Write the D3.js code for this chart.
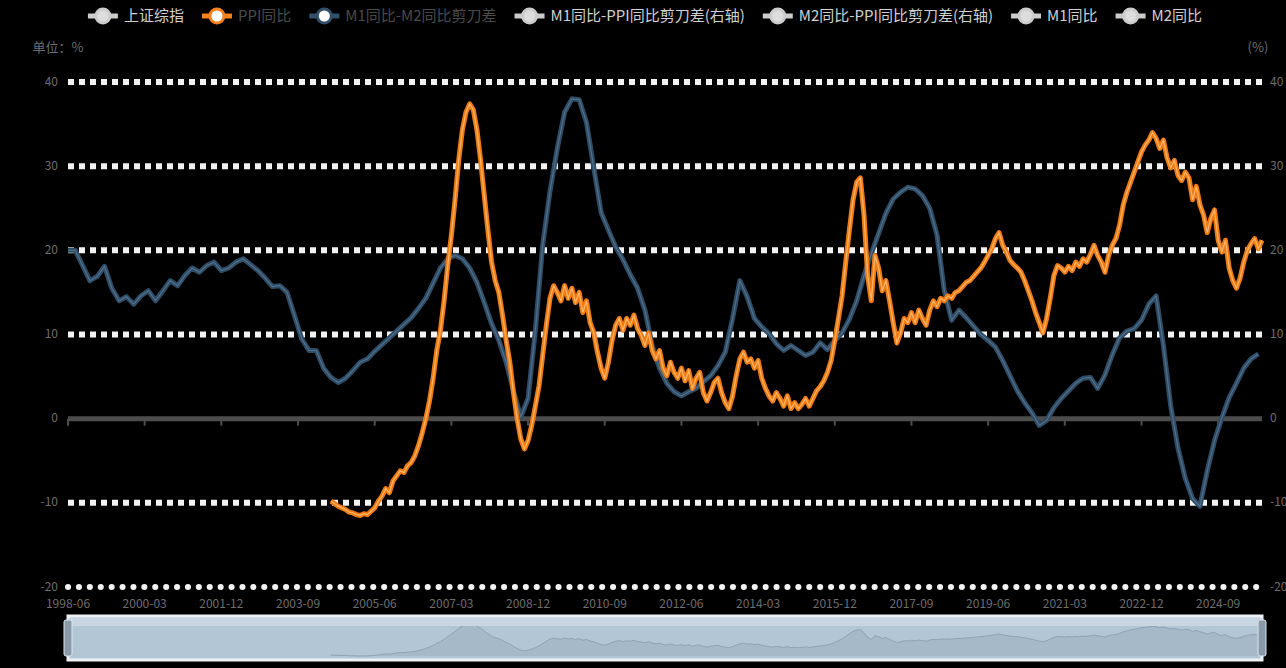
<!DOCTYPE html>
<html><head><meta charset="utf-8">
<script src="https://cdn.jsdelivr.net/npm/d3@7"></script>
<style>html,body{margin:0;padding:0;background:#000;overflow:hidden}svg{display:block;font-family:"Noto Sans CJK SC","Noto Sans",sans-serif}</style>
</head><body><svg id="c" width="1286" height="668"></svg>
<script>
// ---- data ----
const startMonth = "1998-06";
const endMonth = "2025-09";
const legendNames = ["上证综指", "PPI同比", "M1同比-M2同比剪刀差", "M1同比-PPI同比剪刀差(右轴)", "M2同比-PPI同比剪刀差(右轴)", "M1同比", "M2同比"];
const legendColors = ["#ccc", "#f5821f", "#33506b", "#ccc", "#ccc", "#ccc", "#ccc"];
const legendActive = [false, true, true, false, false, false, false];
const yTickValues = [40, 30, 20, 10, 0, -10, -20];
const xLabelEveryMonths = 21;
const leftAxisName = "单位：%";
const rightAxisName = "(%)";
// blue series: one value every 2 months from startMonth
const blueStepMonths = 2;
const blueValues = [
20.0,20.0,18.2,16.4,16.9,18.1,15.5,14.0,14.5,13.6,
14.6,15.2,14.0,15.2,16.4,15.8,17.0,17.9,17.4,18.2,
18.6,17.6,17.9,18.6,19.0,18.3,17.6,16.7,15.7,15.8,
15.0,12.3,9.5,8.1,8.1,6.0,4.9,4.3,4.8,5.7,
6.7,7.1,8.0,8.8,9.6,10.4,11.2,12.0,13.1,14.3,
16.1,17.9,19.0,19.4,19.0,17.9,16.2,13.8,11.3,9.3,
6.7,3.3,0.2,2.4,10.5,20.6,27.0,32.1,36.4,38.0,
37.9,35.2,29.8,24.5,22.4,20.4,18.9,17.1,15.5,12.9,
8.7,6.0,4.2,3.2,2.7,3.2,3.6,4.4,5.1,6.3,
7.9,11.9,16.4,14.5,11.9,10.9,10.1,8.9,8.1,8.7,
8.1,7.5,7.9,9.0,8.2,9.3,10.2,11.8,14.0,17.0,
19.6,22.0,24.4,26.1,26.9,27.5,27.3,26.5,25.0,21.8,
15.2,11.7,12.9,12.0,11.0,10.0,9.3,8.5,6.9,5.1,
3.3,1.9,0.7,-0.8,-0.2,1.3,2.4,3.3,4.2,4.8,
4.9,3.6,5.2,7.6,9.6,10.4,10.7,11.7,13.6,14.6,
8.7,1.5,-3.5,-7.1,-9.5,-10.4,-6.2,-2.6,0.1,2.5,
4.2,6.0,7.1,7.7];
// orange series: monthly from orangeStart
const orangeStart = "2004-06";
const orangeValues = [
-9.8,-10.1,-10.4,-10.6,-10.8,-11.1,-11.2,-11.4,-11.5,-11.3,
-11.4,-11.0,-10.6,-9.8,-9.2,-8.3,-8.8,-7.4,-6.8,-6.2,
-6.4,-5.6,-5.2,-4.4,-3.2,-1.7,0,2.1,4.8,8.1,
10.5,14.0,18.2,21.8,26.0,30.7,34.3,36.4,37.4,36.7,
34.3,30.7,26.5,22.4,18.6,16.4,15.0,12.3,9.3,6.7,
3.1,0,-2.4,-3.6,-2.6,-0.8,1.5,3.9,7.5,11.1,
14.3,15.8,15.0,14.0,15.8,14.3,15.5,13.8,15.0,12.6,
14.0,11.4,10.2,7.9,6.0,4.8,6.7,9.3,11.1,11.9,
10.5,11.9,11.1,12.3,10.7,9.9,8.7,10.2,8.1,7.1,
8.1,6.0,5.1,6.7,5.5,4.8,6.0,4.5,5.7,3.6,
4.8,5.5,3.1,2.1,3.1,4.3,4.8,3.1,1.9,1.2,
2.7,5.1,7.1,7.9,6.7,7.1,6.0,6.9,4.8,3.6,
2.7,2.1,3.1,2.4,1.5,2.7,1.2,1.9,1.2,1.7,
2.4,1.5,2.4,3.3,3.8,4.5,5.5,6.9,9.3,11.9,
14.6,18.6,22.4,26.0,28.1,28.6,24.2,17.0,14.0,19.4,
17.9,15.2,16.4,14.0,11.4,9.0,10.2,11.9,11.4,12.6,
11.4,12.9,11.9,11.1,12.9,14.0,13.3,14.3,14.0,14.6,
14.3,15.0,15.2,15.7,16.2,16.4,16.9,17.4,17.9,18.6,
19.4,20.2,21.4,22.1,20.6,19.8,18.8,18.3,17.9,17.4,
16.4,15.2,14.0,12.6,11.4,10.2,11.9,14.3,17.0,18.2,
17.9,17.4,18.1,17.6,18.6,18.1,19.0,18.6,19.5,20.6,
19.4,18.6,17.4,19.4,20.6,21.4,23.0,25.4,26.9,28.1,
29.3,30.5,31.7,32.5,33.1,34.0,33.3,32.1,33.1,31.0,
29.8,30.7,28.9,28.3,29.3,28.6,26.0,27.6,25.4,24.2,
22.1,23.8,24.8,21.2,19.8,21.2,17.9,16.4,15.5,16.7,
18.6,20.0,20.8,21.4,20.2,21.2];

// ---- layout ----
const W = 1286, H = 668;
const M = {left: 68, right: 1262, top: 82, bottom: 587};
const svg = d3.select("#c");
svg.append("rect").attr("width", W).attr("height", H).attr("fill", "#000");

const parse = d3.timeParse("%Y-%m");
const fmt = d3.timeFormat("%Y-%m");
const months = d3.timeMonth.range(parse(startMonth), d3.timeMonth.offset(parse(endMonth), 1)).map(fmt);
const x = d3.scalePoint().domain(months).range([M.left, M.right]);
const y = d3.scaleLinear().domain([-20, 40]).range([M.bottom, M.top]);

// grid lines
const grid = svg.append("g");
yTickValues.forEach(v => {
  if (v === 0) return;
  const isBottom = v === -20;
  grid.append("line")
    .attr("x1", M.left).attr("x2", M.right)
    .attr("y1", y(v)).attr("y2", y(v))
    .attr("stroke", "#f2f2f2")
    .attr("stroke-width", 6)
    .attr("stroke-dasharray", isBottom ? "0.1 10.8" : "6 5")
    .attr("stroke-linecap", isBottom ? "round" : "butt");
});

// zero axis line with ticks
const tickMonths = months.filter((m, i) => i % xLabelEveryMonths === 0);
svg.append("line").attr("x1", M.left).attr("x2", M.right)
  .attr("y1", y(0)).attr("y2", y(0)).attr("stroke", "#4d4d4d").attr("stroke-width", 5);
svg.append("g").selectAll("line").data(tickMonths).join("line")
  .attr("x1", d => x(d)).attr("x2", d => x(d))
  .attr("y1", y(0)).attr("y2", y(0) + 7)
  .attr("stroke", "#4d4d4d").attr("stroke-width", 2);

// y labels
svg.append("g").selectAll("text").data(yTickValues).join("text")
  .attr("x", M.left - 10).attr("y", d => y(d)).attr("dy", "0.3em")
  .attr("text-anchor", "end").attr("fill", "#6e6e6e").attr("font-size", 12).text(d => d);
svg.append("g").selectAll("text").data(yTickValues).join("text")
  .attr("x", M.right + 8).attr("y", d => y(d)).attr("dy", "0.3em")
  .attr("text-anchor", "start").attr("fill", "#6e6e6e").attr("font-size", 12).text(d => d);
svg.append("text").attr("x", M.left - 10).attr("y", 52).attr("text-anchor", "middle")
  .attr("fill", "#6e6e6e").attr("font-size", 13).text(leftAxisName);
svg.append("text").attr("x", M.right - 4).attr("y", 52).attr("text-anchor", "middle")
  .attr("fill", "#6e6e6e").attr("font-size", 13).text(rightAxisName);

// x labels
svg.append("g").selectAll("text").data(tickMonths).join("text")
  .attr("x", d => x(d)).attr("y", 608).attr("text-anchor", "middle")
  .attr("fill", "#6e6e6e").attr("font-size", 12).text(d => d);

// series
const blueData = blueValues.map((v, k) => ({m: months[k * blueStepMonths], v}));
const oStart = months.indexOf(orangeStart);
const orangeData = orangeValues.map((v, k) => ({m: months[oStart + k], v}));
const line = d3.line().x(d => x(d.m)).y(d => y(d.v));

svg.append("path").datum(blueData).attr("d", line).attr("fill", "none")
  .attr("stroke", "#2f4c66").attr("stroke-width", 5).attr("stroke-linejoin", "round");
svg.append("path").datum(blueData).attr("d", line).attr("fill", "none")
  .attr("stroke", "#5f7f9a").attr("stroke-width", 1.2).attr("stroke-opacity", 0.7);
svg.append("path").datum(orangeData).attr("d", line).attr("fill", "none")
  .attr("stroke", "#f07a12").attr("stroke-width", 5).attr("stroke-linejoin", "round");
svg.append("path").datum(orangeData).attr("d", line).attr("fill", "none")
  .attr("stroke", "#ffc27a").attr("stroke-width", 1.3).attr("stroke-opacity", 0.8);

// legend
const lg = svg.append("g");
const items = [];
legendNames.forEach((name, i) => {
  const g = lg.append("g");
  const col = legendColors[i];
  g.append("line").attr("x1", 0).attr("x2", 30).attr("y1", 0).attr("y2", 0)
    .attr("stroke", col).attr("stroke-width", 5);
  g.append("circle").attr("cx", 15).attr("cy", 0).attr("r", 7)
    .attr("fill", legendActive[i] ? "#fff" : "#ddd").attr("stroke", col).attr("stroke-width", 3);
  const t = g.append("text").attr("x", 36).attr("dy", "0.35em").attr("font-size", 15)
    .attr("fill", legendActive[i] ? "#4a4a4a" : "#d0d0d0").text(name);
  const w = 36 + t.node().getComputedTextLength();
  items.push({g, w});
});
const gap = 18;
const total = d3.sum(items, d => d.w) + gap * (items.length - 1);
let px = 645 - total / 2;
items.forEach(it => { it.g.attr("transform", `translate(${px},16)`); px += it.w + gap; });

// data zoom slider
const sz = {top: 616, bottom: 660};
const sx = d3.scalePoint().domain(months).range([M.left, M.right]);
const sy = d3.scaleLinear().domain(d3.extent(orangeValues)).range([sz.bottom - 4, sz.top + 8]);
svg.append("rect").attr("x", M.left).attr("y", sz.top).attr("width", M.right - M.left)
  .attr("height", sz.bottom - sz.top).attr("fill", "#b3c6d5").attr("stroke", "#eef2f5").attr("stroke-width", 3);
svg.append("path").datum(orangeData)
  .attr("d", d3.area().x(d => sx(d.m)).y0(sz.bottom - 4).y1(d => sy(d.v)))
  .attr("fill", "#9fb3c3").attr("opacity", 0.7);
svg.append("path").datum(orangeData)
  .attr("d", d3.line().x(d => sx(d.m)).y(d => sy(d.v)))
  .attr("fill", "none").attr("stroke", "#8ea3b5").attr("stroke-width", 1);
svg.append("rect").attr("x", M.left).attr("y", sz.top + 2).attr("width", M.right - M.left)
  .attr("height", 8).attr("fill", "#c7d6e2");
[M.left, M.right].forEach(hx => {
  svg.append("rect").attr("x", hx - 4).attr("y", sz.top + 4).attr("width", 8).attr("height", sz.bottom - sz.top - 8)
    .attr("rx", 2).attr("fill", "#8a9aa8").attr("stroke", "#dde5ec");
});
</script></body></html>
